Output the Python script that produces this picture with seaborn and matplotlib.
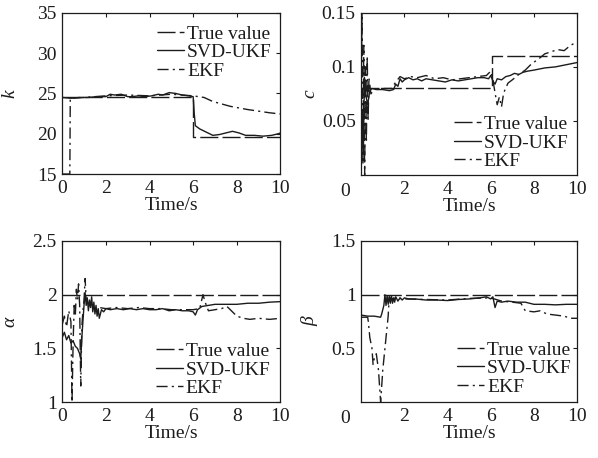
import matplotlib
matplotlib.use("Agg")
import matplotlib.pyplot as plt
import seaborn as sns

# ---- data ----
# k
t_true_k = [0, 6, 6, 10]
true_k = [24.5, 24.5, 19.6, 19.6]
t_ukf_k = [0, 0.4, 0.8, 1.2, 1.6, 2.0, 2.2, 2.4, 2.7, 3.0, 3.2, 3.5, 3.8, 4.1, 4.4,
           4.6, 4.9, 5.2, 5.5, 5.8, 6.0, 6.05, 6.1, 6.3, 6.6, 6.9, 7.2, 7.5, 7.8, 8.1,
           8.4, 8.8, 9.2, 9.6, 9.9, 10.0]
ukf_k = [24.5, 24.4, 24.5, 24.5, 24.6, 24.6, 24.9, 24.8, 24.9, 24.6, 24.6, 24.7, 24.6, 24.7, 24.9,
         24.8, 25.1, 25.0, 24.8, 24.7, 24.6, 22.5, 21.0, 20.6, 20.2, 19.8, 19.9, 20.1, 20.3, 20.1,
         19.8, 19.8, 19.7, 19.8, 20.0, 20.1]
t_ekf_k = [0, 0.35, 0.37, 1.0, 2.0, 3.0, 4.0, 5.0, 6.0, 6.5, 6.9, 7.3, 7.7, 8.1, 8.5, 9.0, 9.5, 10.0]
ekf_k = [15, 15, 24.4, 24.5, 24.7, 24.8, 24.7, 24.9, 24.7, 24.5, 24.0, 23.7, 23.4, 23.2, 23.0, 22.8,
         22.6, 22.45]

# c
t_true_c = [0, 6.05, 6.05, 10]
true_c = [0.08, 0.08, 0.11, 0.11]
t_ukf_c = [0, 0.05, 0.1, 0.15, 0.2, 0.3, 0.4, 0.5, 0.7, 1.0, 1.3, 1.5, 1.6, 1.7, 1.8,
           1.9, 2.0, 2.2, 2.4, 2.6, 2.8, 3.0, 3.3, 3.6, 3.9, 4.2, 4.5, 4.8, 5.1, 5.4,
           5.7, 5.9, 6.0, 6.1, 6.2, 6.3, 6.5, 6.7, 6.9, 7.1, 7.3, 7.5, 7.7, 8.0, 8.5,
           9.0, 9.5, 10.0]
ukf_c = [0.005, 0.06, 0.02, 0.09, 0.075, 0.065, 0.078, 0.08, 0.079, 0.079, 0.078, 0.079, 0.084, 0.082, 0.089,
         0.086, 0.088, 0.09, 0.088, 0.089, 0.087, 0.089, 0.088, 0.087, 0.086, 0.088, 0.087, 0.088, 0.089, 0.09,
         0.09, 0.089, 0.092, 0.087, 0.084, 0.089, 0.088, 0.091, 0.092, 0.094, 0.093, 0.095, 0.096, 0.097, 0.099,
         0.1, 0.102, 0.104]
t_ekf_c = [0, 0.04, 0.08, 0.12, 0.16, 0.2, 0.24, 0.28, 0.32, 0.36, 0.45, 0.6, 0.8, 1.0, 1.4,
           1.6, 1.8, 2.0, 2.3, 2.6, 3.0, 3.4, 3.8, 4.2, 4.6, 5.0, 5.4, 5.8, 6.0, 6.1,
           6.2, 6.3, 6.4, 6.5, 6.6, 6.8, 7.0, 7.3, 7.6, 7.9, 8.2, 8.5, 8.8, 9.1, 9.4,
           9.7, 10.0]
ekf_c = [0.08, 0.15, 0.01, 0.12, 0.0, 0.1, 0.03, 0.11, 0.05, 0.09, 0.075, 0.079, 0.08, 0.08, 0.08,
         0.086, 0.091, 0.089, 0.091, 0.09, 0.092, 0.089, 0.09, 0.088, 0.089, 0.09, 0.091, 0.092, 0.096, 0.088,
         0.076, 0.065, 0.072, 0.063, 0.076, 0.085, 0.088, 0.093, 0.097, 0.103, 0.107, 0.112, 0.114, 0.116, 0.115,
         0.12, 0.123]

# alpha
t_true_a = [0, 10]
true_a = [2.0, 2.0]
t_ukf_a = [0, 0.1, 0.2, 0.3, 0.4, 0.5, 0.6, 0.7, 0.8, 0.85, 0.9, 0.95, 1.0, 1.05, 1.1,
           1.15, 1.2, 1.25, 1.3, 1.35, 1.4, 1.45, 1.5, 1.55, 1.6, 1.65, 1.7, 1.8, 1.9, 2.0,
           2.2, 2.5, 2.8, 3.1, 3.4, 3.7, 4.0, 4.3, 4.6, 4.9, 5.2, 5.5, 5.8, 6.0, 6.1,
           6.2, 6.4, 6.7, 7.0, 7.5, 8.0, 8.5, 9.0, 9.5, 10.0]
ukf_a = [1.6, 1.65, 1.58, 1.62, 1.55, 1.57, 1.52, 1.5, 1.45, 1.4, 1.6, 1.75, 1.9, 2.02, 1.9,
         1.97, 1.85, 1.95, 1.88, 1.98, 1.84, 1.93, 1.82, 1.9, 1.8, 1.87, 1.78, 1.86, 1.84, 1.87,
         1.86, 1.87, 1.86, 1.87, 1.86, 1.87, 1.86, 1.86, 1.87, 1.85, 1.86, 1.85, 1.85, 1.84, 1.81,
         1.86, 1.89, 1.9, 1.91, 1.91, 1.91, 1.92, 1.92, 1.93, 1.935]
t_ekf_a = [0, 0.1, 0.2, 0.3, 0.4, 0.45, 0.5, 0.55, 0.6, 0.65, 0.7, 0.75, 0.8, 0.85, 0.9,
           0.95, 1.0, 1.05, 1.1, 1.2, 1.3, 1.5, 1.7, 2.0, 2.5, 3.0, 3.5, 4.0, 4.5, 5.0,
           5.5, 6.0, 6.3, 6.45, 6.55, 6.7, 7.0, 7.3, 7.55, 7.7, 8.0, 8.3, 8.6, 9.0, 9.5,
           10.0]
ekf_a = [1.72, 1.8, 1.7, 1.85, 1.75, 1.0, 1.55, 1.9, 1.8, 2.05, 1.95, 2.1, 1.9, 1.15, 1.7,
         1.85, 1.95, 2.15, 1.95, 1.92, 1.9, 1.87, 1.88, 1.87, 1.88, 1.87, 1.88, 1.87, 1.87, 1.86,
         1.86, 1.86, 1.87, 2.0, 1.93, 1.85, 1.86, 1.87, 1.89, 1.86, 1.8, 1.78, 1.77, 1.78, 1.77,
         1.78]

# beta
t_true_b = [0, 10]
true_b = [1.0, 1.0]
t_ukf_b = [0, 0.3, 0.6, 0.9, 0.95, 1.05, 1.1, 1.15, 1.2, 1.25, 1.3, 1.35, 1.4, 1.45, 1.5,
           1.55, 1.6, 1.7, 1.8, 1.9, 2.0, 2.2, 2.5, 3.0, 3.5, 4.0, 4.5, 5.0, 5.5, 5.8,
           6.0, 6.1, 6.2, 6.3, 6.5, 6.8, 7.2, 7.6, 8.0, 8.5, 9.0, 9.5, 10.0]
ukf_b = [0.81, 0.8, 0.8, 0.79, 0.82, 0.9, 1.0, 0.9, 0.99, 0.91, 0.98, 0.92, 0.99, 0.92, 0.97,
         0.93, 0.98, 0.94, 0.97, 0.95, 0.97, 0.96, 0.96, 0.95, 0.95, 0.945, 0.955, 0.96, 0.97, 0.98,
         0.96, 0.98, 0.88, 0.94, 0.93, 0.94, 0.93, 0.93, 0.91, 0.91, 0.905, 0.91, 0.91]
t_ekf_b = [0, 0.3, 0.33, 0.4, 0.5, 0.55, 0.6, 0.7, 0.8, 0.9, 0.95, 1.0, 1.1, 1.2, 1.25,
           1.3, 1.4, 1.6, 2.0, 3.0, 4.0, 5.0, 6.0, 6.5, 7.0, 7.4, 7.6, 8.0, 8.3, 8.6,
           9.0, 9.4, 9.7, 10.0]
ekf_b = [0.79, 0.79, 0.75, 0.6, 0.5, 0.35, 0.4, 0.45, 0.3, 0.0, 0.15, 0.3, 0.5, 0.7, 0.8,
         0.98, 0.96, 0.97, 0.96, 0.955, 0.95, 0.965, 0.97, 0.94, 0.93, 0.92, 0.85, 0.84, 0.85, 0.82,
         0.81, 0.8, 0.78, 0.78]

labels = ['True value', 'SVD-UKF', 'EKF']

sns.set_style("white")
plt.rcParams['font.family'] = ['Liberation Serif', 'DejaVu Serif']
plt.rcParams['font.size'] = 14
ink = '#1c1c1c'

fig = plt.figure(figsize=(5.98, 4.58), dpi=100)

panels = [
    # rect, series, ylabel, ylim, yticks, xticks, legend loc, anchor
    ([0.104, 0.620, 0.365, 0.352], (t_true_k, true_k, t_ukf_k, ukf_k, t_ekf_k, ekf_k),
     'k', (15, 35), [15, 20, 25, 30, 35], [0, 2, 4, 6, 8, 10], 'upper right', (0.96, 0.925)),
    ([0.604, 0.618, 0.361, 0.354], (t_true_c, true_c, t_ukf_c, ukf_c, t_ekf_c, ekf_c),
     'c', (0, 0.15), [0.05, 0.1, 0.15], [2, 4, 6, 8, 10], 'lower right', (0.96, 0.03)),
    ([0.104, 0.122, 0.365, 0.352], (t_true_a, true_a, t_ukf_a, ukf_a, t_ekf_a, ekf_a),
     'α', (1, 2.5), [1, 1.5, 2, 2.5], [0, 2, 4, 6, 8, 10], 'lower right', (0.955, 0.03)),
    ([0.604, 0.122, 0.361, 0.352], (t_true_b, true_b, t_ukf_b, ukf_b, t_ekf_b, ekf_b),
     'β', (0, 1.5), [0.5, 1, 1.5], [2, 4, 6, 8, 10], 'lower right', (0.975, 0.04)),
]

styles = [(0, (13, 3)), '-', (0, (8, 3, 1.5, 3))]

for rect, series, ylab, ylim, yticks, xticks, loc, anchor in panels:
    ax = fig.add_axes(rect)
    for i, name in enumerate(labels):
        sns.lineplot(x=series[2 * i], y=series[2 * i + 1], ax=ax, color=ink, lw=1.0,
                     linestyle=styles[i], label=name, estimator=None, sort=False)
    ax.set_xlim(0, 10)
    ax.set_ylim(*ylim)
    ax.set_yticks(yticks)
    ax.set_yticklabels([f'{v:g}' for v in yticks])
    ax.set_xticks(xticks)
    ax.tick_params(direction='in', length=3, width=0.8, top=True, right=True,
                   colors=ink, labelsize=14, pad=4)
    for s in ax.spines.values():
        s.set_color(ink)
        s.set_linewidth(0.9)
    ax.set_xlabel('Time/s', fontsize=14, color=ink, labelpad=0)
    ax.set_ylabel(ylab, fontsize=14, style='italic', color=ink)
    ax.yaxis.set_label_coords(-0.2, 0.5)
    if 0 not in xticks:
        ax.text(-0.05, -0.1, '0', transform=ax.transAxes, ha='right', va='center',
                fontsize=14, color=ink)
    ax.legend(loc=loc, bbox_to_anchor=anchor, frameon=False, fontsize=14,
              handlelength=1.4, handletextpad=0.15, labelspacing=0.05,
              borderpad=0, borderaxespad=0, labelcolor=ink)

fig.savefig('out.png', dpi=100)
